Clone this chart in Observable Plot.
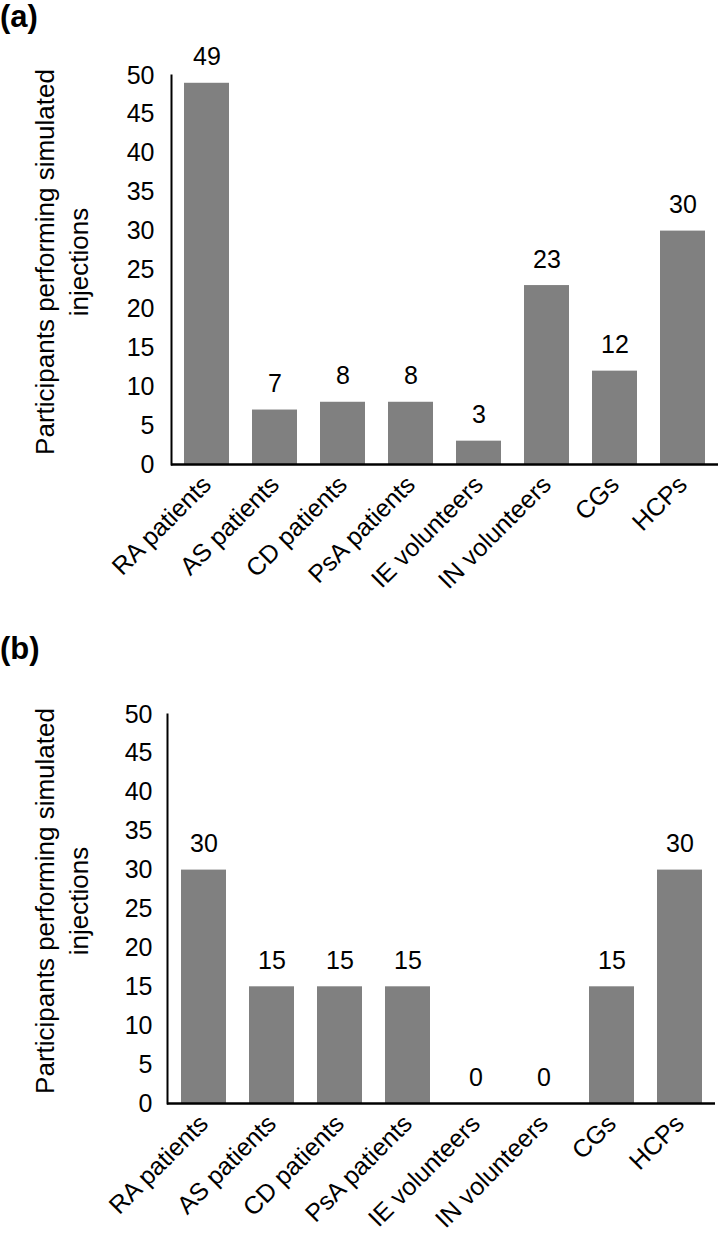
<!DOCTYPE html>
<html>
<head>
<meta charset="utf-8">
<script src="https://cdn.jsdelivr.net/npm/d3@7"></script>
<script src="https://cdn.jsdelivr.net/npm/@observablehq/plot@0.6"></script>
<style>
  body { margin: 0; background: #fff; }
  #wrap { position: relative; width: 718px; height: 1237px; font-family: "Liberation Sans", Arial, sans-serif; }
  .panel { position: absolute; left: 0; }
  .lab { position: absolute; left: 0; font-weight: bold; font-size: 31px; line-height: 1; z-index: 2; color: #000; }
</style>
</head>
<body>
<div id="wrap">
  <div id="pa" class="panel" style="top:0px"></div>
  <div id="pb" class="panel" style="top:600px"></div>
  <div class="lab" style="top:1px">(a)</div>
  <div class="lab" style="top:633px">(b)</div>
</div>
<script>
const categories = ["RA patients", "AS patients", "CD patients", "PsA patients", "IE volunteers", "IN volunteers", "CGs", "HCPs"];
const valuesA = [49, 7, 8, 8, 3, 23, 12, 30];
const valuesB = [30, 15, 15, 15, 0, 0, 15, 30];
const yTicks = [0, 5, 10, 15, 20, 25, 30, 35, 40, 45, 50];
const yTitle = "Participants performing simulated\ninjections";

function panel(values, opts) {
  const data = categories.map((c, i) => ({category: c, value: values[i]}));
  return Plot.plot({
    width: 718,
    height: opts.height,
    marginTop: opts.marginTop,
    marginBottom: opts.marginBottom,
    marginLeft: opts.marginLeft,
    marginRight: opts.marginRight,
    style: {fontFamily: "'Liberation Sans', Arial, sans-serif", fontSize: "25px", color: "#000", background: "transparent", overflow: "visible"},
    x: {domain: categories, paddingInner: 0.345, paddingOuter: 0.1725, label: null},
    y: {domain: [0, 50], label: null},
    marks: [
      Plot.barY(data, {x: "category", y: "value", fill: "#808080"}),
      Plot.text(data, {x: "category", y: "value", text: d => String(d.value), dy: -26, lineAnchor: "middle", fill: "#000", fontSize: 25}),
      Plot.axisY({ticks: yTicks, tickSize: 0, tickPadding: opts.tickPadding, label: null, fill: "#000", fontSize: 25}),
      Plot.axisX({tickSize: 0, tickPadding: 16, tickRotate: -45, label: null, fill: "#000", fontSize: 25}),
      Plot.frame({anchor: "left", stroke: "#000", strokeWidth: 2}),
      Plot.ruleY([0], {stroke: "#000", strokeWidth: 2.5}),
      Plot.text([yTitle], {frameAnchor: "left", rotate: -90, dx: opts.titleX - opts.marginLeft, dy: opts.titleDy, fontSize: 26, lineAnchor: "middle", textAnchor: "middle", lineHeight: 1.3, fill: "#000"})
    ]
  });
}

document.getElementById("pa").appendChild(panel(valuesA, {height: 600, marginTop: 75, marginBottom: 136, marginLeft: 171, marginRight: 0, tickPadding: 17, titleX: 60, titleDy: -8}));
document.getElementById("pb").appendChild(panel(valuesB, {height: 637, marginTop: 114, marginBottom: 134, marginLeft: 167, marginRight: 3, tickPadding: 15, titleX: 60, titleDy: -8}));
</script>
</body>
</html>
